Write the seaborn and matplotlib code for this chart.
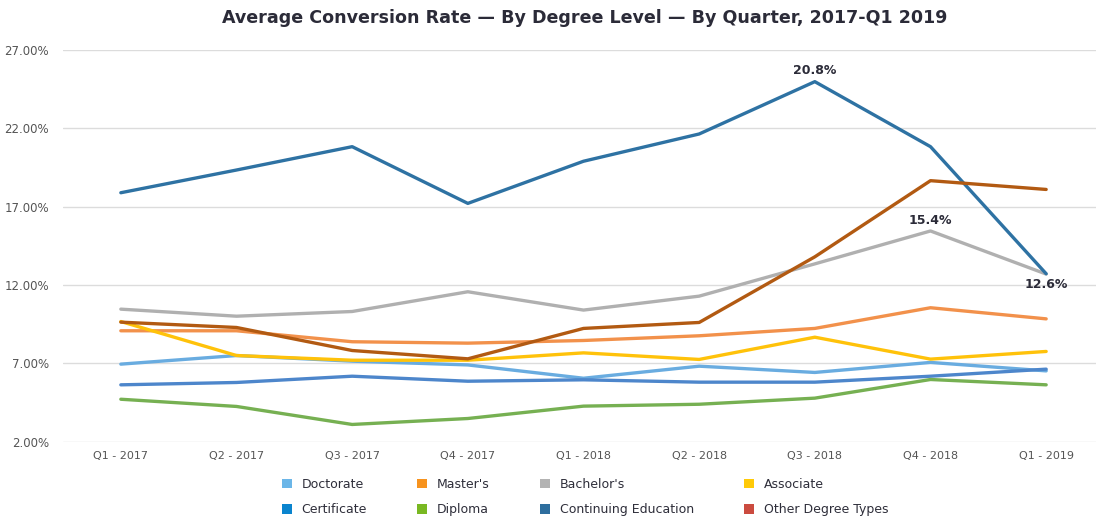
import matplotlib
matplotlib.use("Agg")
import matplotlib.pyplot as plt
from matplotlib.patches import Patch
import seaborn as sns
import pandas as pd

quarters = ["Q1 - 2017", "Q2 - 2017", "Q3 - 2017", "Q4 - 2017", "Q1 - 2018",
            "Q2 - 2018", "Q3 - 2018", "Q4 - 2018", "Q1 - 2019"]

doctorate = [6.95, 7.50, 7.14, 6.90, 6.05, 6.82, 6.42, 7.06, 6.52]
masters = [9.08, 9.08, 8.38, 8.29, 8.46, 8.76, 9.23, 10.55, 9.84]
bachelors = [10.46, 10.01, 10.31, 11.57, 10.40, 11.29, 13.35, 15.45, 12.70]
associate = [9.67, 7.50, 7.20, 7.20, 7.67, 7.25, 8.67, 7.27, 7.76]
certificate = [5.63, 5.78, 6.18, 5.86, 5.95, 5.80, 5.80, 6.18, 6.63]
diploma = [4.71, 4.25, 3.10, 3.48, 4.27, 4.39, 4.78, 5.97, 5.63]
continuing_ed = [17.89, 19.34, 20.83, 17.21, 19.90, 21.64, 24.98, 20.83, 12.72]
other_types = [9.63, 9.29, 7.82, 7.29, 9.23, 9.61, 13.80, 18.66, 18.10]

series_names = ["Doctorate", "Master's", "Bachelor's", "Associate",
                "Certificate", "Diploma", "Continuing Education", "Other Degree Types"]
series_values = [doctorate, masters, bachelors, associate,
                 certificate, diploma, continuing_ed, other_types]

# annotations: (series, quarter index, label)
annot_series = ["Continuing Education", "Bachelor's", "Continuing Education"]
annot_index = [6, 7, 8]
annot_labels = ["20.8%", "15.4%", "12.6%"]

y_ticks = [2, 7, 12, 17, 22, 27]
y_tick_labels = ["2.00%", "7.00%", "12.00%", "17.00%", "22.00%", "27.00%"]

line_colors = {
    "Doctorate": "#69ACE0",
    "Master's": "#F2914B",
    "Bachelor's": "#B0B0B0",
    "Associate": "#FFC20A",
    "Certificate": "#4D86CB",
    "Diploma": "#76B052",
    "Continuing Education": "#2E72A3",
    "Other Degree Types": "#B25A12",
}
legend_colors = {
    "Doctorate": "#6BB6E8",
    "Master's": "#F7931E",
    "Bachelor's": "#B3B3B3",
    "Associate": "#FFCA08",
    "Certificate": "#0A84CE",
    "Diploma": "#79B822",
    "Continuing Education": "#2E6E9E",
    "Other Degree Types": "#CB4B3F",
}

rows = []
for name, vals in zip(series_names, series_values):
    for i, v in enumerate(vals):
        rows.append({"series": name, "q": i, "value": v})
df = pd.DataFrame(rows)

sns.set_theme(style="white")
plt.rcParams["font.family"] = ["DejaVu Sans"]

fig = plt.figure(figsize=(10.96, 5.18), dpi=100)
ax = fig.add_axes([63 / 1096, (518 - 441.7) / 518, (1104 - 63) / 1096, 391.7 / 518])

sns.lineplot(data=df, x="q", y="value", hue="series", hue_order=series_names,
             palette=line_colors, linewidth=2.4, ax=ax, legend=False, sort=False)

ax.set_xlim(-0.5, 8.5)
ax.set_ylim(2, 27)
ax.set_yticks(y_ticks)
ax.set_yticklabels(y_tick_labels)
ax.set_xticks(range(len(quarters)))
ax.set_xticklabels(quarters)
ax.set_xlabel("")
ax.set_ylabel("")
ax.grid(axis="y", color="#DCDCDC", linewidth=1.0)
ax.grid(axis="x", visible=False)
ax.set_axisbelow(True)
for s in ax.spines.values():
    s.set_visible(False)
ax.tick_params(axis="y", length=0, pad=10, labelsize=8.5, labelcolor="#555555")
ax.tick_params(axis="x", length=0, pad=7, labelsize=8, labelcolor="#555555")

offsets = [(0, 3), (0, 3), (0, -3)]
vas = ["bottom", "bottom", "top"]
for s_name, idx, lab, off, va in zip(annot_series, annot_index, annot_labels, offsets, vas):
    val = series_values[series_names.index(s_name)][idx]
    ax.annotate(lab, xy=(idx, val), xytext=off, textcoords="offset points",
                ha="center", va=va, fontsize=9, fontweight="bold", color="#2B2B38",
                annotation_clip=False)

fig.text(585 / 1096, 1 - 18 / 518, "Average Conversion Rate \u2014 By Degree Level \u2014 By Quarter, 2017-Q1 2019",
         ha="center", va="center", fontsize=12.6, fontweight="bold", color="#2B2B38")

order = ["Doctorate", "Certificate", "Master's", "Diploma",
         "Bachelor's", "Continuing Education", "Associate", "Other Degree Types"]
handles = [Patch(facecolor=legend_colors[n], edgecolor="none", label=n) for n in order]
fig.legend(handles=handles, ncol=4, loc="center", bbox_to_anchor=(585 / 1096, 1 - 497 / 518),
           frameon=False, fontsize=9, handlelength=0.8, handleheight=0.8,
           handletextpad=0.8, columnspacing=4.0, labelspacing=1.0,
           labelcolor="#2E2E3A")

fig.savefig("out.png", dpi=100)
